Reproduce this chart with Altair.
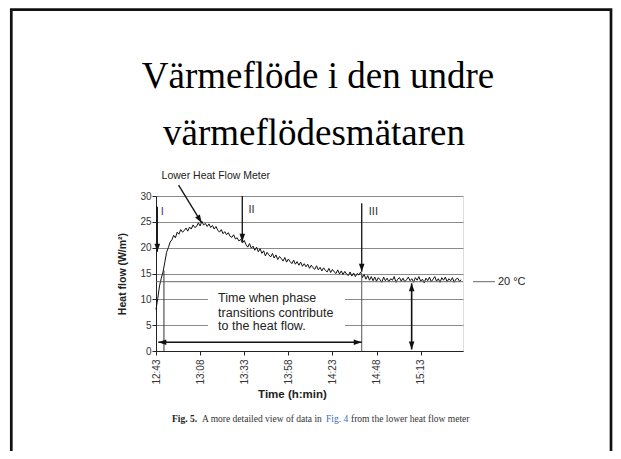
import altair as alt
import pandas as pd

# ---------------- data ----------------
minutes = list(range(174))  # minutes after 12:43
heat_flow = [
    8.0, 10.2, 12.6, 14.1, 15.3, 17.2, 19.1, 20.0, 21.1, 21.5,
    22.4, 21.9, 23.0, 22.6, 23.5, 23.0, 23.3, 23.8, 23.2, 24.0,
    23.6, 24.4, 23.9, 24.1, 24.8, 24.2, 25.1, 24.4, 24.7, 24.1,
    24.6, 23.9, 24.3, 23.6, 24.1, 23.4, 23.0, 23.5, 22.7, 23.1,
    22.5, 22.9, 22.2, 22.0, 22.5, 21.7, 21.9, 21.3, 21.6, 20.9,
    21.4, 20.6, 20.1, 20.8, 19.9, 20.3, 19.5, 20.1, 19.2, 19.8,
    18.9, 19.4, 18.4, 19.1, 18.6, 18.2, 18.9, 18.0, 18.6, 17.7,
    18.3, 17.9, 17.4, 18.1, 17.2, 17.8, 17.3, 16.9, 17.6, 16.8,
    17.3, 16.6, 17.2, 16.4, 16.9, 16.3, 16.8, 16.0, 16.6, 16.1,
    15.8, 16.5, 15.7, 16.2, 15.5, 16.1, 15.6, 15.3, 16.0, 15.2,
    15.8, 15.3, 15.0, 15.7, 14.9, 15.5, 14.8, 15.4, 14.9, 14.6,
    15.3, 14.5, 15.1, 14.4, 15.0, 14.7, 15.3, 14.2, 14.8, 13.9,
    14.6, 13.7, 14.4, 13.6, 14.3, 13.5, 14.2, 13.8, 13.3, 14.3,
    13.6, 14.1, 13.4, 14.0, 13.7, 14.4, 13.3, 13.9, 14.2, 13.5,
    14.1, 13.4, 13.8, 14.3, 13.6, 14.0, 13.3, 14.2, 13.7, 14.4,
    13.5, 13.9, 13.2, 14.1, 13.6, 14.3, 13.4, 13.9, 14.4, 13.5,
    14.0, 13.3, 14.2, 13.7, 14.3, 13.4, 14.0, 13.6, 14.2, 13.3,
    13.9, 14.1, 13.5, 13.8,
]

x_tick_values = [0, 25, 50, 75, 100, 125, 150]
x_tick_labels = ["12:43", "13:08", "13:33", "13:58", "14:23", "14:48", "15:13"]
y_tick_values = [0, 5, 10, 15, 20, 25, 30]

title_lines = ["Värmeflöde i den undre", "värmeflödesmätaren"]
box_lines = ["Time when phase", "transitions contribute", "to the heat flow."]
box_line_v = [10.2, 7.45, 4.75]
phase_labels = ["I", "II", "III"]
phase_label_t = [3.6, 54.2, 123.2]
phase_label_v = [27.0, 27.3, 27.0]
phase_label_col = ["#3b3f8f", "#333", "#333"]
caption_parts = ["Fig. 5.", "A more detailed view of data in", "Fig. 4",
                 "from the lower heat flow meter"]

level_20c = 13.41
seg_t = [0.74, 48.9, 116.6, 116.6, 4.5, 1.3, 144.9, 12.8, 179.7, 0]
seg_v = [27.9, 30.0, 28.6, 15.0, 15.6, 1.68, 13.1, 32.1, level_20c, level_20c]
seg_t2 = [0.74, 48.9, 116.6, 116.6, 4.5, 116.6, 144.9, 25.9, 192.1, 174]
seg_v2 = [19.2, 21.15, 15.35, 0.0, 0.0, 1.68, 0.3, 24.8, level_20c, level_20c]
seg_col = ["#111", "#111", "#111", "#555", "#333", "#111", "#111", "#111", "#666", "#666"]
seg_w = [1.3, 1.3, 1.3, 1.0, 1.0, 1.6, 1.6, 1.3, 1.0, 1.0]

DOWN = "M0,0L-0.7,-2L0.7,-2Z"
UP = "M0,0L-0.7,2L0.7,2Z"
LEFT = "M0,0L2,-0.7L2,0.7Z"
RIGHT = "M0,0L-2,-0.7L-2,0.7Z"
head_t = [0.74, 48.9, 116.6, 1.3, 116.6, 144.9, 144.9, 25.9]
head_v = [19.2, 21.15, 15.35, 1.68, 1.68, 13.1, 0.3, 24.8]
head_shape = [DOWN, DOWN, DOWN, LEFT, RIGHT, UP, DOWN, DOWN]
head_angle = [0, 0, 0, 0, 0, 0, 0, 328.4]

# white panel behind the explanatory text (data units)
box_t, box_t2, box_v, box_v2 = 29.5, 107.1, 2.9, 12.8

# ---------------- layout ----------------
VW, VH = 307, 155
PL, PT = 148, 188
PR = 605 - PL - VW
PB = 443 - PT - VH
OX, OY = 156, 196  # page position of the plot's top-left corner

xs = alt.Scale(domain=[0, 174], nice=False, zero=False)
ys = alt.Scale(domain=[0, 30], nice=False)

label_expr = "{" + ",".join(f"'{v}':'{l}'" for v, l in zip(x_tick_values, x_tick_labels)) + "}[datum.value]"

x_axis = alt.Axis(
    values=x_tick_values, labelExpr=label_expr, labelAngle=-90,
    labelFontSize=10, labelColor="#333", labelPadding=4, labelFont="Liberation Sans",
    tickSize=4, tickColor="#222", domainColor="#222", grid=False,
    title="Time (h:min)", titleFontSize=11.5, titleFontWeight="bold",
    titleFont="Liberation Sans", titleColor="#222", titleX=136, titleY=43,
    titleAlign="center", titleBaseline="middle")
y_axis = alt.Axis(
    values=y_tick_values, grid=True, gridColor="#8a8a8a", gridWidth=1,
    tickSize=4, tickColor="#222", domainColor="#222", labelPadding=1,
    labelFontSize=10, labelColor="#333", labelFont="Liberation Sans",
    title="Heat flow (W/m²)", titleFontSize=10.5, titleFontWeight="bold",
    titleFont="Liberation Sans", titleColor="#222", titleX=-34, titleY=77.5,
    titleAngle=270, titleAlign="center", titleBaseline="middle")


def X(f="t"):
    return alt.X(f"{f}:Q", scale=xs, axis=x_axis)


def Y(f="v"):
    return alt.Y(f"{f}:Q", scale=ys, axis=y_axis)


one = pd.DataFrame({"k": [0]})

series = pd.DataFrame({"t": minutes, "v": heat_flow})
line = alt.Chart(series).mark_line(color="#111", strokeWidth=1).encode(x=X(), y=Y())

segs = pd.DataFrame({"t": seg_t, "v": seg_v, "t2": seg_t2, "v2": seg_v2,
                     "c": seg_col, "w": seg_w})
rules = alt.Chart(segs).mark_rule().encode(
    x=X(), x2="t2:Q", y=Y(), y2="v2:Q",
    color=alt.Color("c:N", scale=None),
    strokeWidth=alt.StrokeWidth("w:Q", scale=None),
)

heads = pd.DataFrame({"t": head_t, "v": head_v, "s": head_shape, "a": head_angle})
arrowheads = alt.Chart(heads).mark_point(filled=True, color="#111", opacity=1, size=64).encode(
    x=X(), y=Y(),
    shape=alt.Shape("s:N", scale=None),
    angle=alt.Angle("a:Q", scale=None),
)

box = alt.Chart(pd.DataFrame({"t": [box_t], "t2": [box_t2], "v": [box_v], "v2": [box_v2]})).mark_rect(
    color="white").encode(x=X(), x2="t2:Q", y=Y(), y2="v2:Q")

box_text = alt.Chart(pd.DataFrame({"txt": box_lines, "v": box_line_v, "t": [35.2] * 3})).mark_text(
    align="left", baseline="middle", fontSize=12.5, color="#222", font="Liberation Sans"
).encode(x=X(), y=Y(), text="txt:N")

phase_text = alt.Chart(pd.DataFrame({"txt": phase_labels, "t": phase_label_t, "v": phase_label_v,
                                     "c": phase_label_col})).mark_text(
    align="center", baseline="middle", fontSize=11, font="Liberation Sans"
).encode(x=X(), y=Y(), text="txt:N", color=alt.Color("c:N", scale=None))

meter_text = alt.Chart(pd.DataFrame({"t": [33.9], "v": [33.9]})).mark_text(
    text="Lower Heat Flow Meter", align="center", baseline="middle", fontSize=10.5,
    color="#222", font="Liberation Sans"
).encode(x=X(), y=Y())

temp_text = alt.Chart(pd.DataFrame({"t": [193.8], "v": [level_20c]})).mark_text(
    text="20 °C", align="left", baseline="middle", fontSize=11, color="#222",
    font="Liberation Sans"
).encode(x=X(), y=Y())

# slide frame, title and caption (outside the plot, pixel positions)
frame = alt.Chart(one).mark_rect(fillOpacity=0, stroke="#111", strokeWidth=2.7).encode(
    x=alt.value(11.3 - OX), x2=alt.value(611 - OX),
    y=alt.value(9.6 - OY), y2=alt.value(290),
)

title1 = alt.Chart(one).mark_text(
    text=title_lines[0], align="center", baseline="alphabetic", fontSize=37,
    font="Liberation Serif", color="#000"
).encode(x=alt.value(318 - OX), y=alt.value(88 - OY))
title2 = alt.Chart(one).mark_text(
    text=title_lines[1], align="center", baseline="alphabetic", fontSize=37,
    font="Liberation Serif", color="#000"
).encode(x=alt.value(314 - OX), y=alt.value(145 - OY))

cap_x = [172 - OX, 202 - OX, 326 - OX, 351 - OX]
cap_col = ["#222", "#333", "#3a6cb5", "#333"]
cap_w = ["bold", "normal", "normal", "normal"]
caps = []
for txt, cx, cc, cw in zip(caption_parts, cap_x, cap_col, cap_w):
    caps.append(alt.Chart(one).mark_text(
        text=txt, align="left", baseline="middle", fontSize=9.5,
        font="Liberation Serif", color=cc, fontWeight=cw
    ).encode(x=alt.value(cx), y=alt.value(419 - OY)))

chart = alt.layer(
    line, box, rules, arrowheads, box_text, phase_text, meter_text, temp_text,
    frame, title1, title2, *caps,
).properties(
    width=VW, height=VH,
    autosize=alt.AutoSizeParams(type="none"),
    padding={"left": PL, "top": PT, "right": PR, "bottom": PB},
    background="white",
).configure_view(stroke="#666", strokeWidth=1).configure(font="Liberation Sans")

chart.save("out.html", embed_options={"renderer": "svg", "actions": False})
